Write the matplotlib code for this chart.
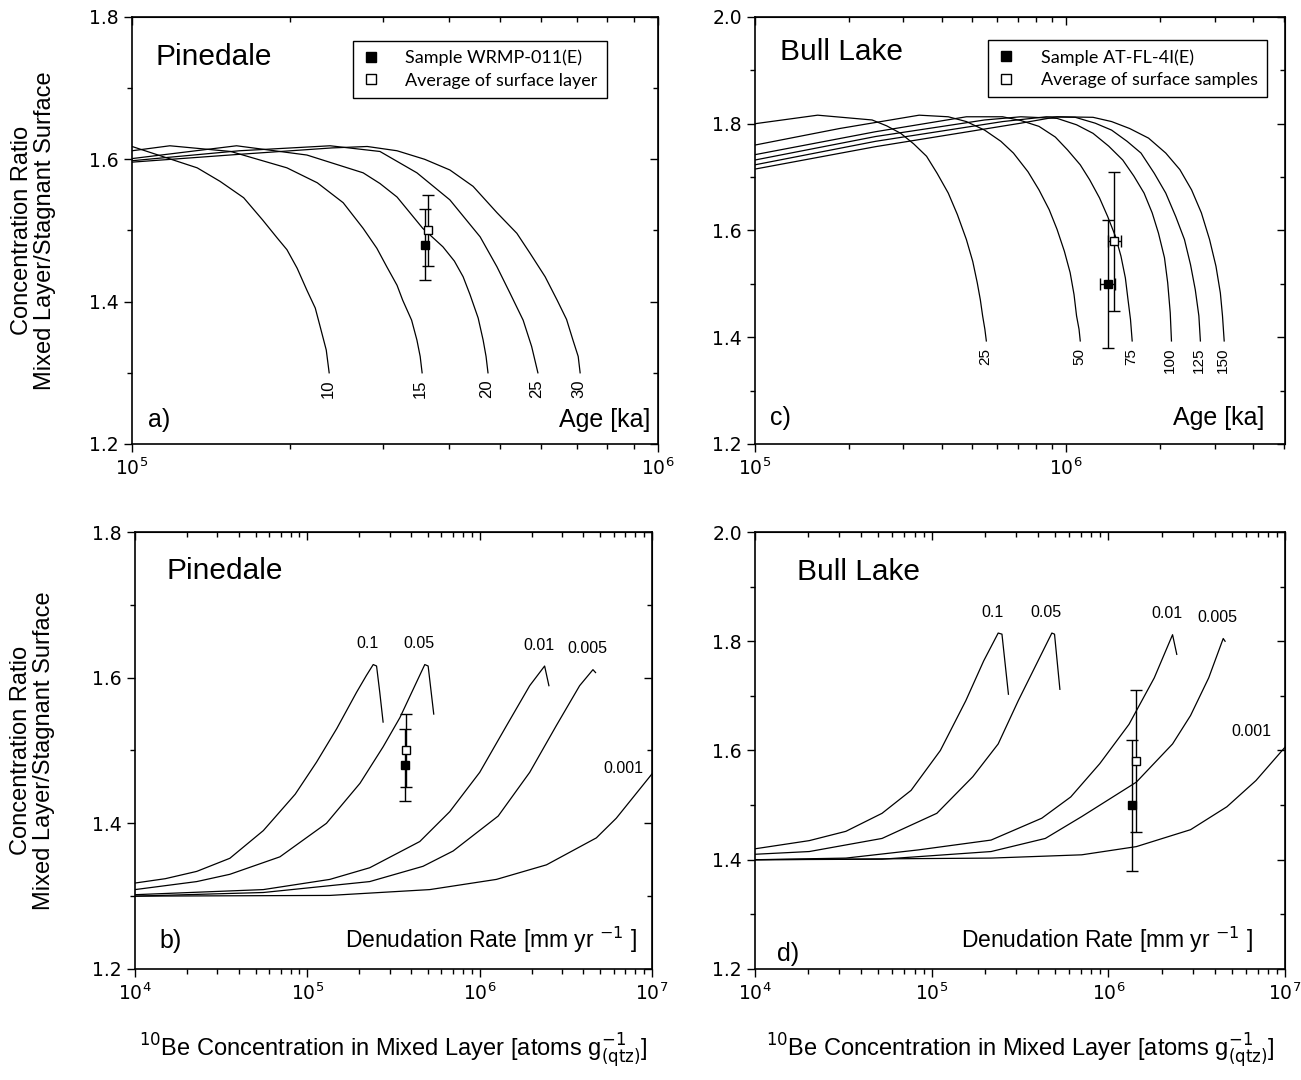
import matplotlib
matplotlib.use('Agg')
import matplotlib.pyplot as plt
from matplotlib.lines import Line2D
from matplotlib.ticker import MultipleLocator, LogLocator, NullFormatter, FormatStrFormatter

# ---------------- panel a: Pinedale, ratio vs age ----------------
a_labels = ['10', '15', '20', '25', '30']
a10_x = [1.00e5, 1.33e5, 1.47e5, 1.63e5, 1.77e5, 1.89e5, 1.97e5, 2.06e5, 2.15e5, 2.23e5, 2.28e5, 2.34e5, 2.37e5]
a10_y = [1.618, 1.588, 1.569, 1.546, 1.515, 1.489, 1.473, 1.447, 1.416, 1.391, 1.364, 1.332, 1.300]
a15_x = [1.00e5, 1.18e5, 1.54e5, 1.97e5, 2.25e5, 2.52e5, 2.75e5, 2.92e5, 3.05e5, 3.19e5, 3.27e5,
         3.40e5, 3.48e5, 3.53e5, 3.56e5]
a15_y = [1.612, 1.619, 1.611, 1.588, 1.567, 1.539, 1.503, 1.475, 1.449, 1.423, 1.402,
         1.374, 1.346, 1.323, 1.300]
a20_x = [1.00e5, 1.58e5, 2.15e5, 2.75e5, 2.96e5, 3.19e5, 3.57e5, 3.90e5, 4.10e5, 4.26e5, 4.39e5,
         4.55e5, 4.65e5, 4.71e5, 4.75e5]
a20_y = [1.601, 1.619, 1.606, 1.581, 1.566, 1.547, 1.503, 1.477, 1.457, 1.435, 1.410,
         1.377, 1.346, 1.323, 1.300]
a25_x = [1.00e5, 1.60e5, 2.38e5, 2.96e5, 3.48e5, 4.02e5, 4.59e5, 4.94e5, 5.23e5, 5.54e5, 5.75e5, 5.91e5]
a25_y = [1.598, 1.612, 1.619, 1.611, 1.581, 1.543, 1.491, 1.449, 1.412, 1.374, 1.337, 1.300]
a30_x = [1.00e5, 1.60e5, 2.40e5, 2.80e5, 3.19e5, 3.60e5, 4.02e5, 4.45e5, 4.94e5, 5.39e5, 5.71e5,
         6.10e5, 6.43e5, 6.70e5, 6.89e5, 7.05e5, 7.11e5]
a30_y = [1.596, 1.607, 1.616, 1.618, 1.612, 1.600, 1.585, 1.562, 1.525, 1.496, 1.468,
         1.435, 1.402, 1.375, 1.346, 1.323, 1.300]
a_sample = dict(x=3.60e5, y=1.48, yerr=0.05)      # WRMP-011(E)
a_average = dict(x=3.65e5, y=1.50, yerr=0.05)     # surface layer

# ---------------- panel c: Bull Lake, ratio vs age ----------------
c_labels = ['25', '50', '75', '100', '125', '150']
c25_x = [1.00e5, 1.59e5, 2.38e5, 2.65e5, 2.94e5, 3.24e5, 3.56e5, 3.85e5, 4.18e5, 4.47e5, 4.78e5,
         5.01e5, 5.18e5, 5.30e5, 5.39e5, 5.48e5, 5.54e5]
c25_y = [1.800, 1.816, 1.807, 1.796, 1.782, 1.762, 1.739, 1.707, 1.670, 1.630, 1.583,
         1.542, 1.502, 1.470, 1.440, 1.415, 1.393]
c50_x = [1.00e5, 1.87e5, 3.37e5, 4.18e5, 4.78e5, 5.47e5, 6.17e5, 6.77e5, 7.54e5, 8.18e5, 8.82e5,
         9.35e5, 9.87e5, 1.03e6, 1.06e6, 1.08e6, 1.10e6, 1.11e6]
c50_y = [1.760, 1.791, 1.816, 1.813, 1.804, 1.788, 1.767, 1.745, 1.710, 1.676, 1.639,
         1.602, 1.561, 1.521, 1.480, 1.440, 1.415, 1.393]
c75_x = [1.00e5, 2.44e5, 4.78e5, 6.25e5, 7.15e5, 8.18e5, 9.23e5, 1.01e6, 1.11e6, 1.19e6, 1.28e6,
         1.36e6, 1.44e6, 1.50e6, 1.55e6, 1.58e6, 1.61e6, 1.63e6]
c75_y = [1.742, 1.785, 1.813, 1.813, 1.806, 1.795, 1.775, 1.751, 1.723, 1.695, 1.661,
         1.626, 1.589, 1.552, 1.511, 1.471, 1.433, 1.393]
c100_x = [1.00e5, 2.44e5, 5.47e5, 7.15e5, 9.35e5, 1.08e6, 1.22e6, 1.37e6, 1.52e6, 1.65e6, 1.78e6,
          1.89e6, 1.98e6, 2.07e6, 2.12e6, 2.16e6, 2.18e6]
c100_y = [1.732, 1.776, 1.807, 1.813, 1.810, 1.798, 1.782, 1.758, 1.732, 1.702, 1.670,
          1.633, 1.595, 1.549, 1.502, 1.446, 1.393]
c125_x = [1.00e5, 2.44e5, 6.25e5, 8.63e5, 1.07e6, 1.24e6, 1.40e6, 1.57e6, 1.74e6, 1.92e6, 2.09e6,
          2.25e6, 2.40e6, 2.51e6, 2.60e6, 2.67e6, 2.70e6]
c125_y = [1.723, 1.767, 1.804, 1.813, 1.812, 1.801, 1.788, 1.767, 1.745, 1.707, 1.670,
          1.626, 1.583, 1.536, 1.489, 1.440, 1.393]
c150_x = [1.00e5, 2.44e5, 7.15e5, 9.35e5, 1.22e6, 1.40e6, 1.60e6, 1.84e6, 2.09e6, 2.32e6, 2.53e6,
          2.72e6, 2.89e6, 3.03e6, 3.13e6, 3.18e6, 3.22e6]
c150_y = [1.715, 1.757, 1.801, 1.813, 1.812, 1.804, 1.791, 1.773, 1.745, 1.714, 1.676,
          1.633, 1.583, 1.533, 1.483, 1.440, 1.393]
c_sample = dict(x=1.36e6, y=1.50, yerr=0.12, xerr=0.077e6)   # AT-FL-4I(E)
c_average = dict(x=1.43e6, y=1.58, yerr=0.13, xerr=0.07e6)   # surface samples

# ---------------- panel b: Pinedale, ratio vs 10Be concentration ----------------
b_labels = ['0.1', '0.05', '0.01', '0.005', '0.001']
b01_x = [1.0e4, 1.5e4, 2.28e4, 3.55e4, 5.55e4, 6.31e4, 8.5e4, 1.13e5, 1.48e5, 1.93e5, 2.2e5,
         2.41e5, 2.52e5, 2.63e5, 2.75e5]
b01_y = [1.318, 1.324, 1.334, 1.352, 1.390, 1.405, 1.440, 1.484, 1.530, 1.580, 1.603,
         1.618, 1.616, 1.580, 1.539]
b005_x = [1.0e4, 2.28e4, 3.55e4, 6.93e4, 1.29e5, 2.02e5, 2.75e5, 3.44e5, 4.11e5, 4.80e5, 5.02e5, 5.41e5]
b005_y = [1.309, 1.320, 1.330, 1.354, 1.400, 1.455, 1.505, 1.545, 1.584, 1.618, 1.616, 1.550]
b001_x = [1.0e4, 5.55e4, 1.35e5, 2.30e5, 4.49e5, 6.70e5, 1.0e6, 1.43e6, 1.95e6, 2.38e6, 2.52e6]
b001_y = [1.302, 1.309, 1.323, 1.339, 1.375, 1.416, 1.470, 1.534, 1.589, 1.616, 1.589]
b0005_x = [1.0e4, 5.55e4, 2.30e5, 4.69e5, 7.01e5, 1.28e6, 1.95e6, 2.78e6, 3.80e6, 4.54e6, 4.70e6]
b0005_y = [1.300, 1.305, 1.320, 1.341, 1.362, 1.410, 1.470, 1.534, 1.589, 1.611, 1.607]
b0001_x = [1.0e4, 1.35e5, 5.13e5, 1.25e6, 2.44e6, 4.75e6, 6.2e6, 1.0e7]
b0001_y = [1.300, 1.301, 1.309, 1.323, 1.343, 1.380, 1.407, 1.468]
b_sample = dict(x=3.67e5, y=1.48, yerr=0.05)
b_average = dict(x=3.72e5, y=1.50, yerr=0.05)

# ---------------- panel d: Bull Lake, ratio vs 10Be concentration ----------------
d_labels = ['0.1', '0.05', '0.01', '0.005', '0.001']
d01_x = [1.0e4, 2.03e4, 3.27e4, 5.24e4, 7.65e4, 1.12e5, 1.56e5, 1.97e5, 2.38e5, 2.50e5, 2.72e5]
d01_y = [1.420, 1.435, 1.452, 1.485, 1.527, 1.600, 1.691, 1.764, 1.815, 1.813, 1.703]
d005_x = [1.0e4, 2.03e4, 5.24e4, 1.07e5, 1.71e5, 2.38e5, 3.09e5, 4.00e5, 4.79e5, 4.96e5, 5.32e5]
d005_y = [1.410, 1.415, 1.439, 1.485, 1.552, 1.612, 1.691, 1.764, 1.815, 1.813, 1.712]
d001_x = [1.0e4, 3.27e4, 8.41e4, 2.17e5, 4.20e5, 6.13e5, 8.95e5, 1.31e6, 1.82e6, 2.31e6, 2.44e6]
d001_y = [1.400, 1.403, 1.418, 1.436, 1.476, 1.515, 1.576, 1.648, 1.733, 1.812, 1.776]
d0005_x = [1.0e4, 5.24e4, 2.17e5, 4.40e5, 7.07e5, 1.44e6, 2.31e6, 2.92e6, 3.70e6, 4.47e6, 4.58e6]
d0005_y = [1.400, 1.401, 1.415, 1.439, 1.479, 1.542, 1.612, 1.664, 1.733, 1.805, 1.800]
d0001_x = [1.0e4, 2.17e5, 7.07e5, 1.44e6, 2.92e6, 4.69e6, 6.85e6, 1.0e7]
d0001_y = [1.400, 1.403, 1.409, 1.424, 1.455, 1.497, 1.545, 1.606]
d_sample = dict(x=1.37e6, y=1.50, yerr=0.12)
d_average = dict(x=1.44e6, y=1.58, yerr=0.13)

SANS = 'Liberation Sans'
TICKFONT = 'DejaVu Sans'
LEGFONT = 'Lato'
YLABEL = 'Concentration Ratio\nMixed Layer/Stagnant Surface'
XLABEL = r'$^{10}$Be Concentration in Mixed Layer [atoms g$_{(\mathrm{qtz})}^{-1}$]'


def style_axes(ax, xlim, ylim):
    ax.set_xscale('log')
    ax.set_xlim(*xlim)
    ax.set_ylim(*ylim)
    ax.yaxis.set_major_locator(MultipleLocator(0.2))
    ax.yaxis.set_minor_locator(MultipleLocator(0.1))
    ax.xaxis.set_major_locator(LogLocator(base=10))
    ax.xaxis.set_minor_locator(LogLocator(base=10, subs=range(2, 10)))
    ax.xaxis.set_minor_formatter(NullFormatter())
    ax.yaxis.set_major_formatter(FormatStrFormatter('%.1f'))
    ax.tick_params(which='both', direction='out', width=1.0, labelsize=13.5)
    ax.tick_params(which='major', length=6)
    ax.tick_params(which='minor', length=3.5)
    for lab in ax.get_xticklabels() + ax.get_yticklabels():
        lab.set_family(TICKFONT)
    for sp in ax.spines.values():
        sp.set_linewidth(1.2)
    # inward ticks on top and right
    top = ax.secondary_xaxis('top')
    top.xaxis.set_major_locator(LogLocator(base=10))
    top.xaxis.set_minor_locator(LogLocator(base=10, subs=range(2, 10)))
    top.tick_params(which='both', direction='in', labeltop=False, width=1.0)
    top.tick_params(which='major', length=6)
    top.tick_params(which='minor', length=3.5)
    right = ax.secondary_yaxis('right')
    right.yaxis.set_major_locator(MultipleLocator(0.2))
    right.yaxis.set_minor_locator(MultipleLocator(0.1))
    right.tick_params(which='both', direction='in', labelright=False, width=1.0)
    right.tick_params(which='major', length=6)
    right.tick_params(which='minor', length=3.5)


def points(ax, sample, average):
    ax.errorbar(sample['x'], sample['y'], yerr=sample['yerr'], xerr=sample.get('xerr'),
                fmt='s', ms=6, mfc='black', mec='black', ecolor='black',
                elinewidth=1.0, capsize=4, capthick=1.0, zorder=4)
    ax.errorbar(average['x'], average['y'], yerr=average['yerr'], xerr=average.get('xerr'),
                fmt='s', ms=6, mfc='white', mec='black', mew=1.0, ecolor='black',
                elinewidth=1.0, capsize=4, capthick=1.0, zorder=5)


def legend(ax, labels, anchor):
    handles = [Line2D([], [], ls='none', marker='s', ms=7, mfc='black', mec='black'),
               Line2D([], [], ls='none', marker='s', ms=7, mfc='white', mec='black')]
    leg = ax.legend(handles, labels, loc='upper left', bbox_to_anchor=anchor,
                    fancybox=False, framealpha=1, edgecolor='black', borderaxespad=0,
                    prop={'family': LEGFONT, 'size': 13}, handlelength=1.0,
                    handletextpad=1.4, labelspacing=0.35, borderpad=0.5)
    leg.get_frame().set_linewidth(1.0)


fig = plt.figure(figsize=(13.01, 10.8), dpi=100)
ax_a = fig.add_axes([0.1015, 0.5889, 0.4043, 0.3954])
ax_c = fig.add_axes([0.5803, 0.5889, 0.4074, 0.3954])
ax_b = fig.add_axes([0.1038, 0.1028, 0.3974, 0.4046])
ax_d = fig.add_axes([0.5803, 0.1028, 0.4074, 0.4046])

LW = 0.9

# ---- a ----
style_axes(ax_a, (1e5, 1e6), (1.2, 1.8))
for lab, xs, ys in zip(a_labels, [a10_x, a15_x, a20_x, a25_x, a30_x],
                       [a10_y, a15_y, a20_y, a25_y, a30_y]):
    ax_a.plot(xs, ys, color='black', lw=LW)
    ax_a.annotate(lab, (xs[-1], ys[-1]), xytext=(-1, -5), textcoords='offset points',
                  rotation=90, ha='center', va='top', fontsize=12, family=SANS)
points(ax_a, a_sample, a_average)
legend(ax_a, ['Sample WRMP-011(E)', 'Average of surface layer'], (0.42, 0.944))
ax_a.text(0.044, 0.906, 'Pinedale', transform=ax_a.transAxes, fontsize=21.5,
          family=SANS, va='center')
ax_a.text(0.03, 0.056, 'a)', transform=ax_a.transAxes, fontsize=18, family=SANS, va='center')
ax_a.text(0.985, 0.056, 'Age [ka]', transform=ax_a.transAxes, fontsize=18, family=SANS,
          va='center', ha='right')
ax_a.set_ylabel(YLABEL, family=SANS, fontsize=17, linespacing=1.05)
ax_a.yaxis.set_label_coords(-0.145, 0.5)

# ---- c ----
style_axes(ax_c, (1e5, 5.05e6), (1.2, 2.0))
for lab, xs, ys in zip(c_labels, [c25_x, c50_x, c75_x, c100_x, c125_x, c150_x],
                       [c25_y, c50_y, c75_y, c100_y, c125_y, c150_y]):
    ax_c.plot(xs, ys, color='black', lw=LW)
    ax_c.annotate(lab, (xs[-1], ys[-1]), xytext=(-1, -5), textcoords='offset points',
                  rotation=90, ha='center', va='top', fontsize=11, family=SANS)
points(ax_c, c_sample, c_average)
legend(ax_c, ['Sample AT-FL-4I(E)', 'Average of surface samples'], (0.44, 0.946))
ax_c.text(0.047, 0.918, 'Bull Lake', transform=ax_c.transAxes, fontsize=21.5,
          family=SANS, va='center')
ax_c.text(0.028, 0.061, 'c)', transform=ax_c.transAxes, fontsize=18, family=SANS, va='center')
ax_c.text(0.962, 0.061, 'Age [ka]', transform=ax_c.transAxes, fontsize=18, family=SANS,
          va='center', ha='right')

# ---- b ----
style_axes(ax_b, (1e4, 1e7), (1.2, 1.8))
curves_b = list(zip(b_labels, [b01_x, b005_x, b001_x, b0005_x, b0001_x],
                    [b01_y, b005_y, b001_y, b0005_y, b0001_y]))
for i, (lab, xs, ys) in enumerate(curves_b):
    ax_b.plot(xs, ys, color='black', lw=LW)
    if i < len(curves_b) - 1:
        k = ys.index(max(ys))
        ax_b.annotate(lab, (xs[k], ys[k]), xytext=(-4, 15), textcoords='offset points',
                      ha='center', va='center', fontsize=11.5, family=SANS)
    else:
        ax_b.annotate(lab, (xs[-1], ys[-1]), xytext=(-21, 4), textcoords='offset points',
                      ha='center', va='center', fontsize=11.5, family=SANS)
points(ax_b, b_sample, b_average)
ax_b.text(0.06, 0.911, 'Pinedale', transform=ax_b.transAxes, fontsize=21.5,
          family=SANS, va='center')
ax_b.text(0.048, 0.064, 'b)', transform=ax_b.transAxes, fontsize=18, family=SANS, va='center')
ax_b.text(0.971, 0.066, 'Denudation Rate [mm yr $^{-1}$ ]', transform=ax_b.transAxes,
          fontsize=16.5, family=SANS, va='center', ha='right')
ax_b.set_ylabel(YLABEL, family=SANS, fontsize=17, linespacing=1.05)
ax_b.yaxis.set_label_coords(-0.155, 0.5)
ax_b.set_xlabel(XLABEL, family=SANS, fontsize=17, labelpad=20)

# ---- d ----
style_axes(ax_d, (1e4, 1e7), (1.2, 2.0))
curves_d = list(zip(d_labels, [d01_x, d005_x, d001_x, d0005_x, d0001_x],
                    [d01_y, d005_y, d001_y, d0005_y, d0001_y]))
for i, (lab, xs, ys) in enumerate(curves_d):
    ax_d.plot(xs, ys, color='black', lw=LW)
    if i < len(curves_d) - 1:
        k = ys.index(max(ys))
        ax_d.annotate(lab, (xs[k], ys[k]), xytext=(-4, 15), textcoords='offset points',
                      ha='center', va='center', fontsize=11.5, family=SANS)
    else:
        ax_d.annotate(lab, (xs[-1], ys[-1]), xytext=(-24, 11), textcoords='offset points',
                      ha='center', va='center', fontsize=11.5, family=SANS)
points(ax_d, d_sample, d_average)
ax_d.text(0.079, 0.909, 'Bull Lake', transform=ax_d.transAxes, fontsize=21.5,
          family=SANS, va='center')
ax_d.text(0.042, 0.035, 'd)', transform=ax_d.transAxes, fontsize=18, family=SANS, va='center')
ax_d.text(0.94, 0.066, 'Denudation Rate [mm yr $^{-1}$ ]', transform=ax_d.transAxes,
          fontsize=16.5, family=SANS, va='center', ha='right')
ax_d.set_xlabel(XLABEL, family=SANS, fontsize=17, labelpad=20)

fig.savefig('out.png', dpi=100)
